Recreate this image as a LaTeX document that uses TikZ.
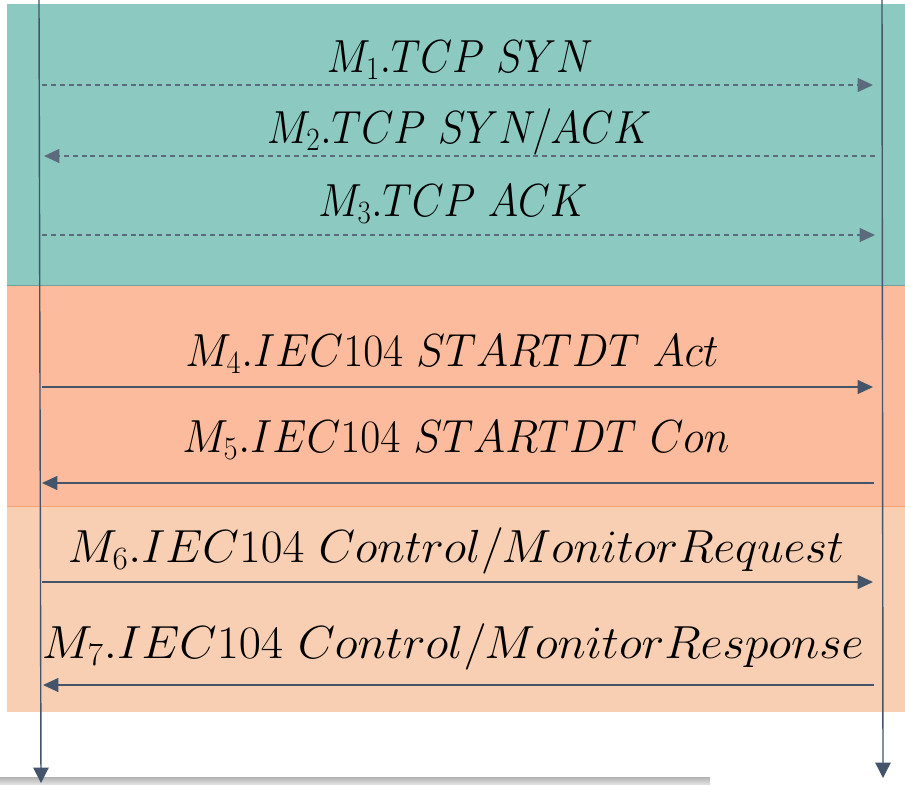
\documentclass[tikz,border=0pt]{standalone}
\usepackage{fix-cm}
\usetikzlibrary{arrows.meta}

\definecolor{tcpteal}{HTML}{8CC9C1}
\definecolor{startsalmon}{HTML}{FBBB9C}
\definecolor{datapeach}{HTML}{F8CFB2}
\definecolor{bandedge}{HTML}{F4A375}
\definecolor{lineslate}{HTML}{44546A}
\definecolor{dashslate}{HTML}{5B6B7D}

\newcommand{\msgfit}[2]{\scalebox{#1}[1]{#2}}

\tikzset{
  lifeline/.style={draw=lineslate, line width=1pt, -{Triangle[length=11pt,width=11pt]}},
  msg/.style={draw=lineslate, line width=0.9pt, -{Triangle[length=11pt,width=10pt]}},
  tcpmsg/.style={msg, draw=dashslate, dash pattern=on 3.5pt off 2.8pt},
  msglabel/.style={font=\fontsize{33}{40}\selectfont, inner sep=0pt}
}

\begin{document}
\begin{tikzpicture}[x=0.025cm, y=-0.025cm]
  \useasboundingbox (0,0) rectangle (905,784);

  % phase bands
  \fill[tcpteal] (7,4) rectangle (905,285);
  \fill[startsalmon] (7,285) rectangle (905,506);
  \fill[datapeach] (7,506) rectangle (905,712);
  \draw[bandedge, line width=0.6pt] (7,506) -- (905,506);
  \draw[tcpteal!80!black, line width=0.4pt] (7,285) -- (905,285);

  % shadow at the foot
  \shade[top color=gray!60, bottom color=gray!25] (0,777) rectangle (710,784);

  % lifelines
  \coordinate (client top) at (39,0);
  \coordinate (client end) at (41,783);
  \coordinate (server top) at (882,0);
  \coordinate (server end) at (883,778);
  \draw[lifeline] (client top) -- (client end);
  \draw[lifeline] (server top) -- (server end);

  % message ends
  \coordinate (c1) at (42,85);   \coordinate (s1) at (873,85);
  \coordinate (c2) at (44,156);  \coordinate (s2) at (875,156);
  \coordinate (c3) at (42,235);  \coordinate (s3) at (875,235);
  \coordinate (c4) at (42,387);  \coordinate (s4) at (873,387);
  \coordinate (c5) at (42,483);  \coordinate (s5) at (874,483);
  \coordinate (c6) at (42,582);  \coordinate (s6) at (873,582);
  \coordinate (c7) at (43,685);  \coordinate (s7) at (874,685);

  % TCP handshake
  \draw[tcpmsg] (c1) -- (s1);
  \draw[tcpmsg] (s2) -- (c2);
  \draw[tcpmsg] (c3) -- (s3);

  % STARTDT
  \draw[msg] (c4) -- (s4);
  \draw[msg] (s5) -- (c5);

  % control / monitor
  \draw[msg] (c6) -- (s6);
  \draw[msg] (s7) -- (c7);

  % labels
  \node[msglabel] (m1) at (460,60) {\msgfit{0.89}{$M_1.TCP\ SYN$}};
  \node[msglabel] (m2) at (459,132) {\msgfit{0.90}{$M_2.TCP\ SYN/ACK$}};
  \node[msglabel] (m3) at (453,204) {\msgfit{0.89}{$M_3.TCP\ ACK$}};
  \node[msglabel] (m4) at (452,354) {\msgfit{0.94}{$M_4.IEC104\ STARTDT\ Act$}};
  \node[msglabel] (m5) at (456,440) {\msgfit{0.94}{$M_5.IEC104\ STARTDT\ Con$}};
  \node[msglabel] (m6) at (456,551) {\msgfit{1.02}{$M_6.IEC104\ Control/MonitorRequest$}};
  \node[msglabel] (m7) at (453,647) {\msgfit{1.04}{$M_7.IEC104\ Control/MonitorResponse$}};
\end{tikzpicture}
\end{document}
